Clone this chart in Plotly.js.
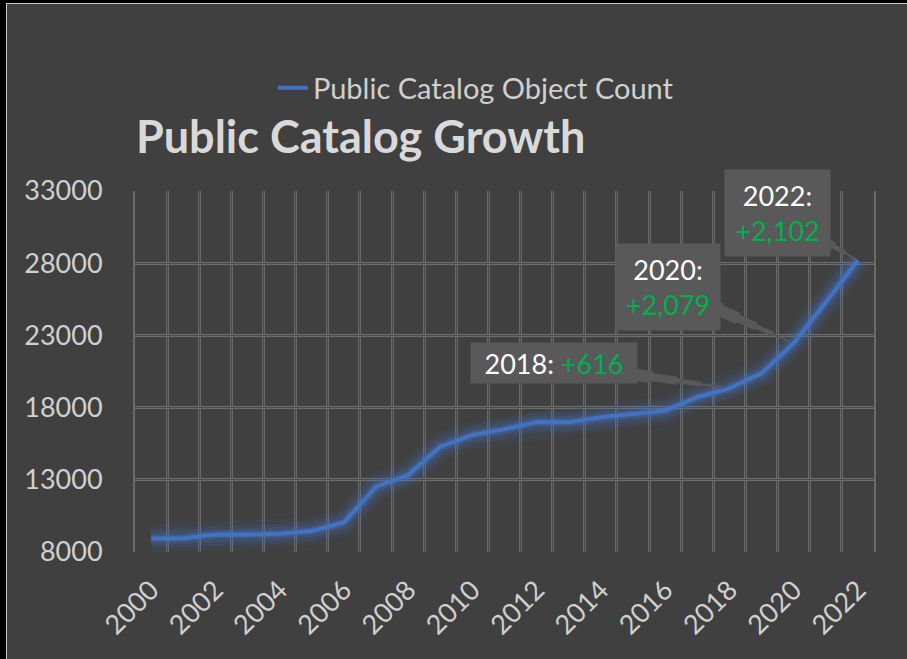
<!DOCTYPE html>
<html>
<head>
<meta charset="utf-8">
<script src="https://cdn.plot.ly/plotly-3.0.1.min.js"></script>
<style>
  html, body { margin: 0; padding: 0; background: #000; width: 907px; height: 659px; overflow: hidden; }
  #wrap { position: absolute; left: 6px; top: 3px; width: 901px; height: 656px;
          border-left: 1px solid #c8c8c8; border-top: 1px solid #c8c8c8; background: #404040; }
  #chart { width: 900px; height: 655px; }
</style>
</head>
<body>
<div id="wrap"><div id="chart"></div></div>
<script>
// ---- data ----
const years = [2000, 2001, 2002, 2003, 2004, 2005, 2006, 2007, 2008, 2009, 2010, 2011,
               2012, 2013, 2014, 2015, 2016, 2017, 2018, 2019, 2020, 2021, 2022];
const objectCount = [8930, 8960, 9210, 9200, 9270, 9450, 10040, 12510, 13330, 15290, 16100, 16500,
                     17000, 16980, 17330, 17560, 17790, 18720, 19340, 20370, 22460, 25300, 28200];
const yTickValues = [8000, 13000, 18000, 23000, 28000, 33000];
const calloutYears = [2018, 2020, 2022];
const calloutDeltas = ['+616', '+2,079', '+2,102'];

const seriesName = 'Public Catalog Object Count';
const chartTitle = 'Public Catalog Growth';

const FONT = 'Lato, "Open Sans", sans-serif';
const BLUE = '#4472C4';
const GREEN = '#00B050';
const BOX = '#595959';

const glow = [[28, 0.08], [20, 0.12], [13, 0.18], [8, 0.26]];
const traces = glow.map(([w, a]) => ({
  x: years, y: objectCount, xaxis: 'x2', yaxis: 'y2', mode: 'lines', showlegend: false, hoverinfo: 'skip',
  line: { color: 'rgba(68,114,196,' + a + ')', width: w }
}));
traces.push({ x: years, y: objectCount, mode: 'lines', name: seriesName,
  line: { color: BLUE, width: 4 } });

// callout geometry (pixel offsets of box centre from the data point)
const calloutStyle = [
  { ax: -175, ay: -25, w: 166, h: 40, twoLine: false },
  { ax: -126, ay: -56, w: 104, h: 86, twoLine: true },
  { ax: -80,  ay: -47, w: 105, h: 86, twoLine: true }
];

const annotations = [];
calloutYears.forEach((yr, i) => {
  const idx = years.indexOf(yr);
  const px = years[idx], py = objectCount[idx];
  const s = calloutStyle[i];
  const len = Math.sqrt(s.ax * s.ax + s.ay * s.ay);
  // tapered wedge built from stacked arrows
  [[20, 0.72], [16, 0.58], [12, 0.44], [8, 0.30], [5, 0.16], [2, 0.02]].forEach(([w, f]) => {
    annotations.push({ x: px, y: py, xref: 'x', yref: 'y', text: ' ', showarrow: true,
      ax: s.ax, ay: s.ay, arrowhead: 0, arrowwidth: w, arrowcolor: BOX,
      standoff: len * f, font: { size: 1 }, bgcolor: 'rgba(0,0,0,0)' });
  });
  const txt = s.twoLine
    ? yr + ':<br><span style="color:' + GREEN + '">' + calloutDeltas[i] + '</span>'
    : yr + ': <span style="color:' + GREEN + '">' + calloutDeltas[i] + '</span>';
  annotations.push({ x: px, y: py, xref: 'x', yref: 'y', text: txt, showarrow: false,
    xshift: s.ax, yshift: -s.ay, width: s.w, height: s.h, borderpad: 0,
    bgcolor: BOX, font: { family: FONT, size: 27, color: '#ffffff' }, align: 'center', valign: 'middle' });
});

const xRange = [years[0] - 0.5, years[years.length - 1] + 0.5];
const yRange = [yTickValues[0], yTickValues[yTickValues.length - 1]];

const layout = {
  width: 900, height: 655,
  paper_bgcolor: '#404040', plot_bgcolor: '#404040',
  margin: { l: 128, r: 33, t: 187, b: 107, pad: 0 },
  font: { family: FONT, color: '#d0d0d0' },
  title: { text: '<b>' + chartTitle + '</b>', xref: 'container', yref: 'container',
    x: 0.1433, xanchor: 'left', y: 0.797, yanchor: 'middle',
    font: { family: FONT, size: 45, color: '#d9d9d9' } },
  showlegend: true,
  legend: { xref: 'container', yref: 'container', x: 0.521, xanchor: 'center', y: 0.872, yanchor: 'middle',
    orientation: 'h', bgcolor: 'rgba(0,0,0,0)', font: { family: FONT, size: 29, color: '#d0d0d0' } },
  xaxis: { type: 'linear', range: xRange, tick0: 2000, dtick: 2, tickformat: 'd',
    showgrid: false, zeroline: false, ticks: '', tickangle: -45, ticklabelstandoff: 16,
    tickfont: { family: FONT, size: 27, color: '#d0d0d0' },
    minor: { tick0: xRange[0], dtick: 1, showgrid: true, gridcolor: '#6a6a6a', gridwidth: 3, ticks: '' } },
  xaxis2: { type: 'linear', range: xRange, overlaying: 'x', showticklabels: false, ticks: '',
    showgrid: false, zeroline: false,
    minor: { tick0: xRange[0], dtick: 1, showgrid: true, gridcolor: '#484848', gridwidth: 1, ticks: '' } },
  yaxis: { range: yRange, tickvals: yTickValues, tickformat: 'd', showgrid: true,
    gridcolor: '#6e6e6e', gridwidth: 3, zeroline: false, ticks: '', ticklabelstandoff: 25,
    showline: true, mirror: true, linecolor: '#6a6a6a', linewidth: 2,
    tickfont: { family: FONT, size: 27, color: '#d0d0d0' } },
  yaxis2: { range: yRange, tickvals: yTickValues, overlaying: 'y', showticklabels: false, ticks: '',
    showgrid: true, gridcolor: '#4a4a4a', gridwidth: 1, zeroline: false },
  annotations: annotations
};

Plotly.newPlot('chart', traces, layout, { staticPlot: true, displayModeBar: false });
</script>
</body>
</html>
